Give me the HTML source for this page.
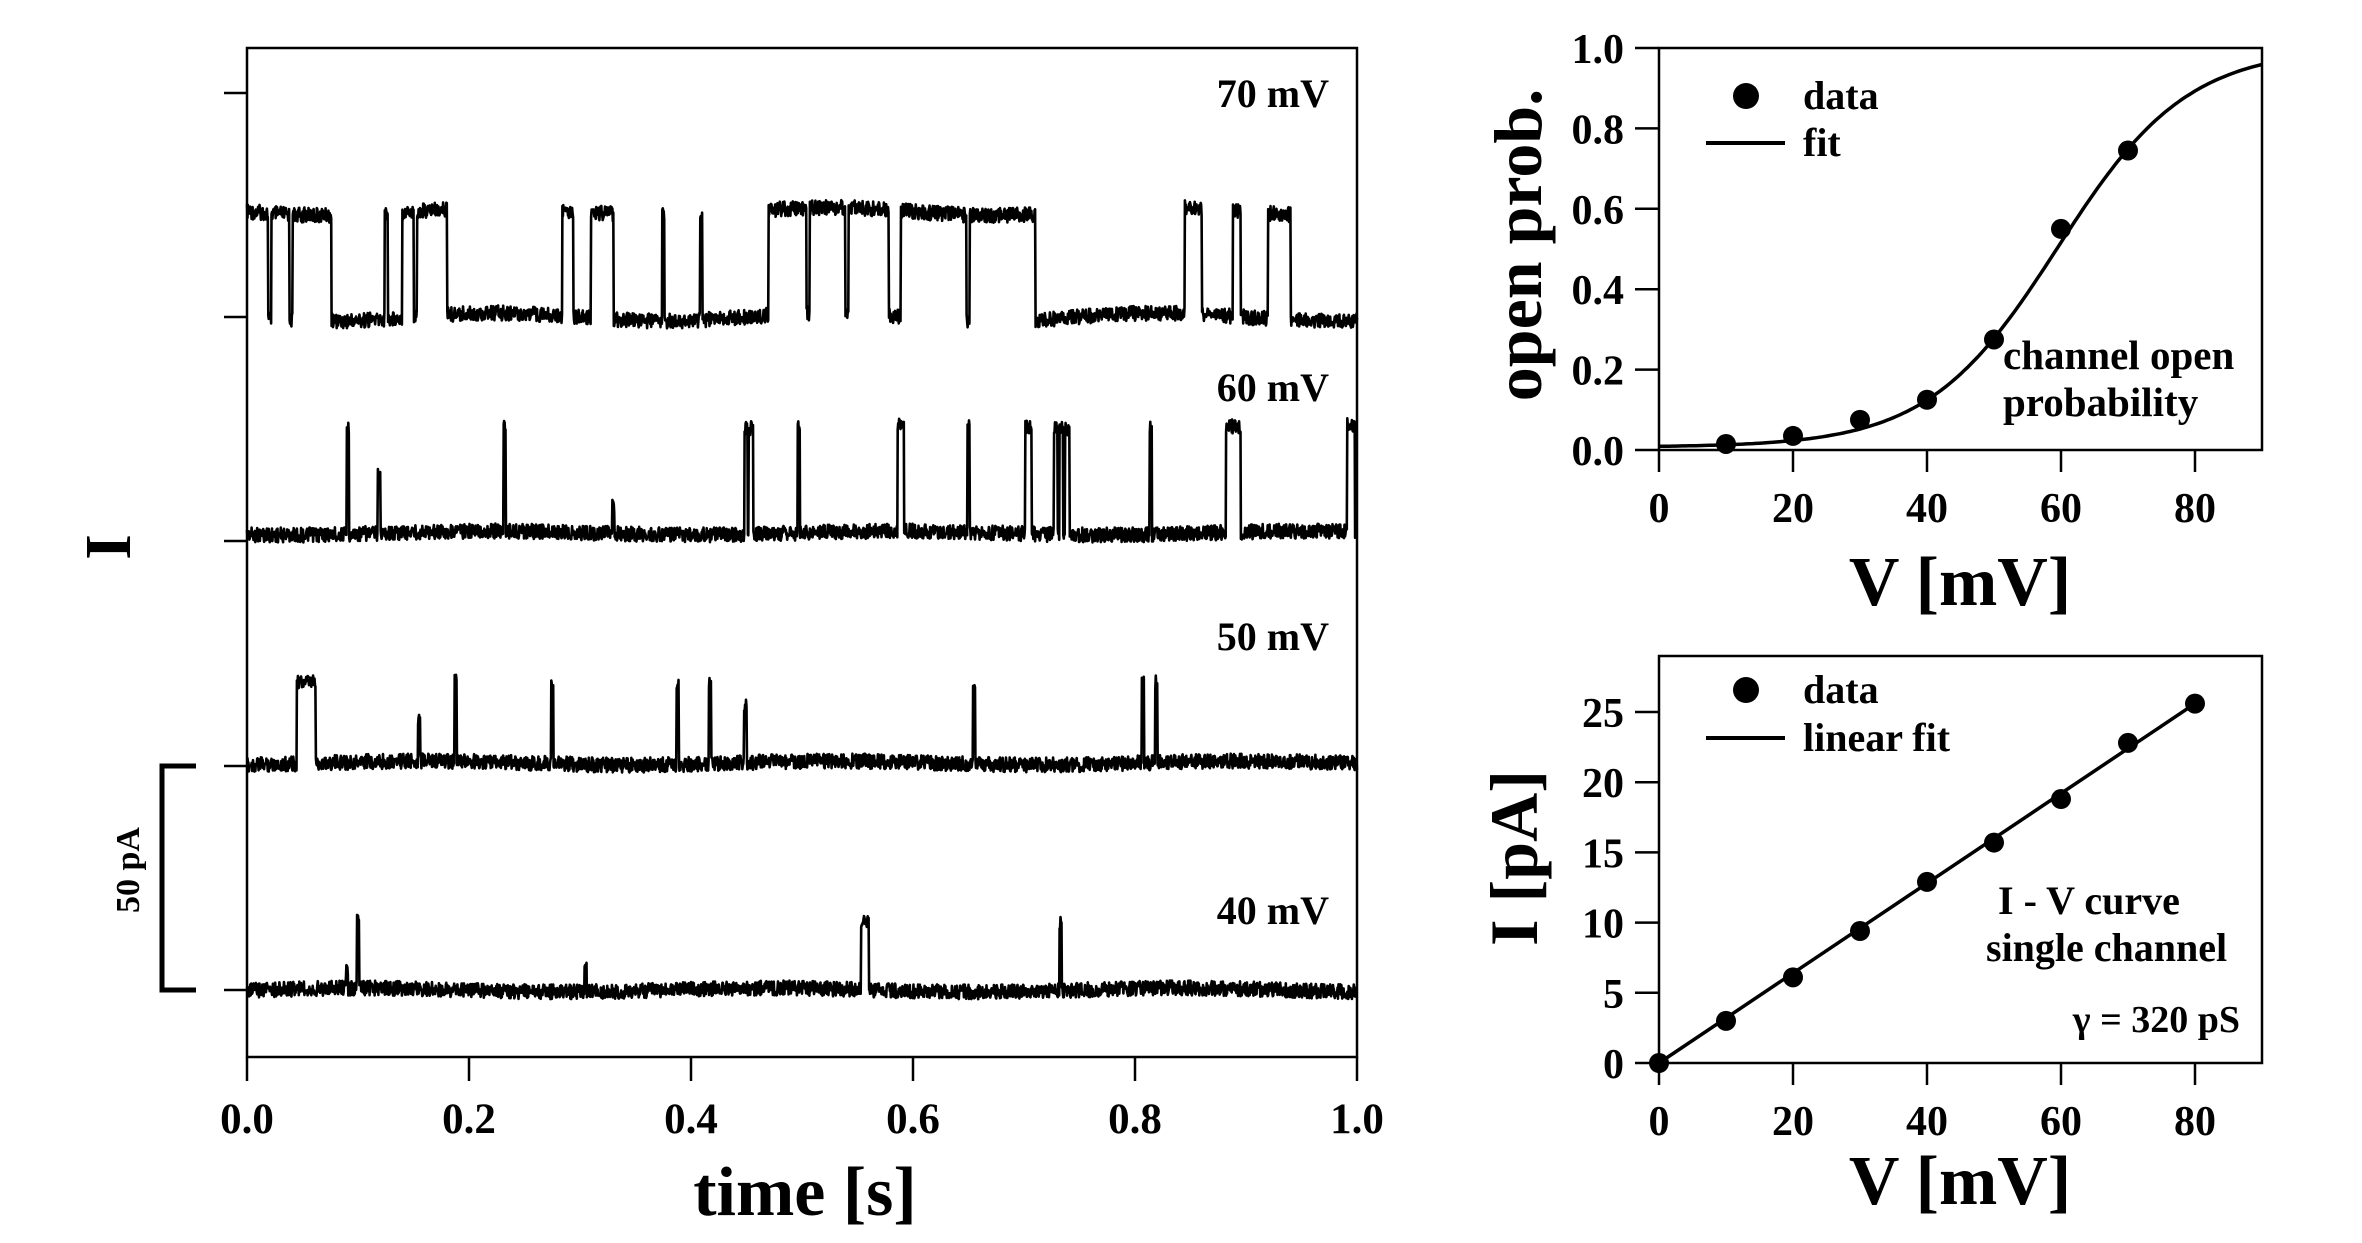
<!DOCTYPE html>
<html><head><meta charset="utf-8"><style>
html,body{margin:0;padding:0;background:#fff}
svg{display:block}
text{font-family:"Liberation Serif",serif;font-weight:bold;fill:#000}
</style></head><body>
<svg id="fig" width="2362" height="1243" viewBox="0 0 2362 1243" xmlns="http://www.w3.org/2000/svg">
<g id="left"></g>
<g id="top"></g>
<g id="bot"></g>
</svg>
<script>
// ---- data ----
const traceLabels = ["70 mV","60 mV","50 mV","40 mV"];
const traceAmps = [23.5, 23.5, 18, 15]; // pA
const traceOpen70 = [[0,0.019],[0.022,0.038],[0.041,0.076],[0.124,0.127],[0.14,0.15],[0.153,0.18],[0.284,0.294],[0.31,0.33],[0.374,0.376],[0.408,0.41],[0.47,0.504],[0.507,0.539],[0.542,0.578],[0.589,0.648],[0.651,0.71],[0.845,0.86],[0.888,0.895],[0.92,0.94]];
const traceOpen60 = [[0.09,0.092],[0.231,0.233],[0.448,0.451],[0.452,0.456],[0.496,0.498],[0.586,0.592],[0.649,0.651],[0.701,0.707],[0.727,0.73],[0.732,0.735],[0.737,0.741],[0.813,0.815],[0.882,0.895],[0.991,0.998]];
const traceOpen50 = [[0.045,0.062],[0.187,0.189],[0.274,0.276],[0.387,0.389],[0.416,0.418],[0.654,0.656],[0.806,0.808],[0.818,0.82]];
const traceOpen40 = [[0.099,0.101],[0.553,0.56],[0.732,0.734]];
const traceSmall50 = [[0.155,0.5],[0.449,0.7]];
const traceSmall60 = [[0.119,0.55],[0.33,0.25]];
const traceSmall40 = [[0.305,0.35],[0.09,0.25]];
const xTicksTime = [0,0.2,0.4,0.6,0.8,1.0];
const poV = [10,20,30,40,50,60,70];
const poVal = [0.015,0.035,0.075,0.125,0.275,0.55,0.745];
const poTicks = [0,0.2,0.4,0.6,0.8,1.0];
const vTicks = [0,20,40,60,80];
const ivV = [0,10,20,30,40,50,60,70,80];
const ivI = [0,3.0,6.1,9.4,12.9,15.7,18.8,22.8,25.6];
const ivTicks = [0,5,10,15,20,25];
const fitV50 = 59.5, fitK = 9.7, fitBase = 0.007, ivSlope = 0.32;

const NS="http://www.w3.org/2000/svg";
function mk(parent,tag,attrs,txt){const e=document.createElementNS(NS,tag);for(const k in attrs)e.setAttribute(k,attrs[k]);if(txt!==undefined)e.textContent=txt;parent.appendChild(e);return e;}

// ---- left trace panel ----
const L=document.getElementById('left');
const tx=t=>247+t*1110;
const pxPerPA=4.49;
const baselines=[317,533,763,990];
let e;
e=mk(L,'rect',{x:247,y:48,width:1110,height:1009,fill:'none',stroke:'#000','stroke-width':2.5});

[93,317,541,766,990].forEach(y=>{e=mk(L,'line',{x1:224,x2:247,y1:y,y2:y,stroke:'#000','stroke-width':2.5});});
xTicksTime.forEach(t=>{
 e=mk(L,'line',{x1:tx(t),x2:tx(t),y1:1057,y2:1081,stroke:'#000','stroke-width':2.5});
 e=mk(L,'text',{x:tx(t),y:1133,'font-size':43,'text-anchor':'middle'},t.toFixed(1));
});
e=mk(L,'text',{x:805,y:1215,'font-size':70,'text-anchor':'middle'},'time [s]');
e=mk(L,'text',{x:0,y:0,'font-size':66,'text-anchor':'middle',transform:'translate(130,547) rotate(-90)'},'I');
e=mk(L,'path',{d:'M196 766 H162 V990 H196',fill:'none',stroke:'#000','stroke-width':5});
e=mk(L,'text',{x:0,y:0,'font-size':34,'text-anchor':'middle',transform:'translate(139,870) rotate(-90)'},'50 pA');
const labY=[107,401,650,924];
traceLabels.forEach((s,i)=>{e=mk(L,'text',{x:1329,y:labY[i],'font-size':40,'text-anchor':'end'},s);});

const opens=[traceOpen70,traceOpen60,traceOpen50,traceOpen40];
const smalls=[[],traceSmall60,traceSmall50,traceSmall40];
// deterministic noise texture (not data)
function noise(i,k){const s=Math.sin(i*12.9898+k*78.233)*43758.5453;return (s-Math.floor(s))-0.5;}
for(let k=0;k<4;k++){
 const N=2400;let d='';
 for(let i=0;i<=N;i++){
  const t=i/N;let lvl=0;
  for(const [a,b] of opens[k]) if(t>=a&&t<=b) lvl=1;
  for(const [a,f] of smalls[k]) if(Math.abs(t-a)<0.0012) lvl=Math.max(lvl,f);
  const drift=k==0?4*Math.sin(t*21):2*Math.sin(t*17+k);
  const y=baselines[k]-lvl*traceAmps[k]*pxPerPA+noise(i,k)*15+drift;
  d+=(i?'L':'M')+tx(t).toFixed(1)+' '+y.toFixed(1);
 }
 e=mk(L,'path',{d:d,fill:'none',stroke:'#000','stroke-width':2.6,'stroke-linejoin':'round'});
 
}

// ---- right charts helpers ----
const vx=v=>1659+v*6.7;
function frame(G,y0,y1,ticks,ty,fmt,name){
 e=mk(G,'rect',{x:1659,y:y0,width:603,height:y1-y0,fill:'none',stroke:'#000','stroke-width':2.5});
 ticks.forEach(v=>{
  e=mk(G,'line',{x1:1635,x2:1659,y1:ty(v),y2:ty(v),stroke:'#000','stroke-width':2.5});
  e=mk(G,'text',{x:1624,y:ty(v)+15,'font-size':42,'text-anchor':'end'},fmt(v));
 });
 vTicks.forEach(v=>{
  e=mk(G,'line',{x1:vx(v),x2:vx(v),y1:y1,y2:y1+22,stroke:'#000','stroke-width':2.5});
  e=mk(G,'text',{x:vx(v),y:y1+72,'font-size':42,'text-anchor':'middle'},String(v));
 });
}

// ---- open probability ----
const T=document.getElementById('top');
const py=p=>450-p*402;
frame(T,48,450,poTicks,py,v=>v.toFixed(1),'open-prob');
let fd='';for(let i=0;i<=180;i++){const v=i*0.5;const p=fitBase+(1-fitBase)/(1+Math.exp((fitV50-v)/fitK));fd+=(i?'L':'M')+vx(v).toFixed(1)+' '+py(p).toFixed(1);}
e=mk(T,'path',{d:fd,fill:'none',stroke:'#000','stroke-width':3.5});
poV.forEach((v,i)=>{e=mk(T,'circle',{cx:vx(v),cy:py(poVal[i]),r:10});});
e=mk(T,'circle',{cx:1746,cy:96,r:13});
e=mk(T,'line',{x1:1706,x2:1785,y1:143,y2:143,stroke:'#000','stroke-width':4});
e=mk(T,'text',{x:1803,y:109,'font-size':40},'data');
e=mk(T,'text',{x:1803,y:156,'font-size':40},'fit');
e=mk(T,'text',{x:2003,y:369,'font-size':41},'channel open');
e=mk(T,'text',{x:2003,y:416,'font-size':41},'probability');
e=mk(T,'text',{x:1960,y:605,'font-size':70,'text-anchor':'middle'},'V [mV]');
e=mk(T,'text',{x:0,y:0,'font-size':68,'text-anchor':'middle',transform:'translate(1541,245) rotate(-90)'},'open prob.');

// ---- IV curve ----
const B=document.getElementById('bot');
const iy=v=>1063-v*14.04;
frame(B,656,1063,ivTicks,iy,v=>String(v),'iv');
e=mk(B,'line',{x1:vx(0),y1:iy(0),x2:vx(80),y2:iy(80*ivSlope),stroke:'#000','stroke-width':3.5});
ivV.forEach((v,i)=>{e=mk(B,'circle',{cx:vx(v),cy:iy(ivI[i]),r:10});});
e=mk(B,'circle',{cx:1746,cy:690,r:13});
e=mk(B,'line',{x1:1706,x2:1785,y1:738,y2:738,stroke:'#000','stroke-width':4});
e=mk(B,'text',{x:1803,y:703,'font-size':40},'data');
e=mk(B,'text',{x:1803,y:751,'font-size':40},'linear fit');
e=mk(B,'text',{x:1998,y:914,'font-size':40},'I - V curve');
e=mk(B,'text',{x:1986,y:961,'font-size':40},'single channel');
e=mk(B,'text',{x:2262-22,y:1032,'font-size':38,'text-anchor':'end'},'γ = 320 pS');
e=mk(B,'text',{x:1960,y:1204,'font-size':70,'text-anchor':'middle'},'V [mV]');
e=mk(B,'text',{x:0,y:0,'font-size':68,'text-anchor':'middle',transform:'translate(1537,858) rotate(-90)'},'I [pA]');
</script>
</body></html>
